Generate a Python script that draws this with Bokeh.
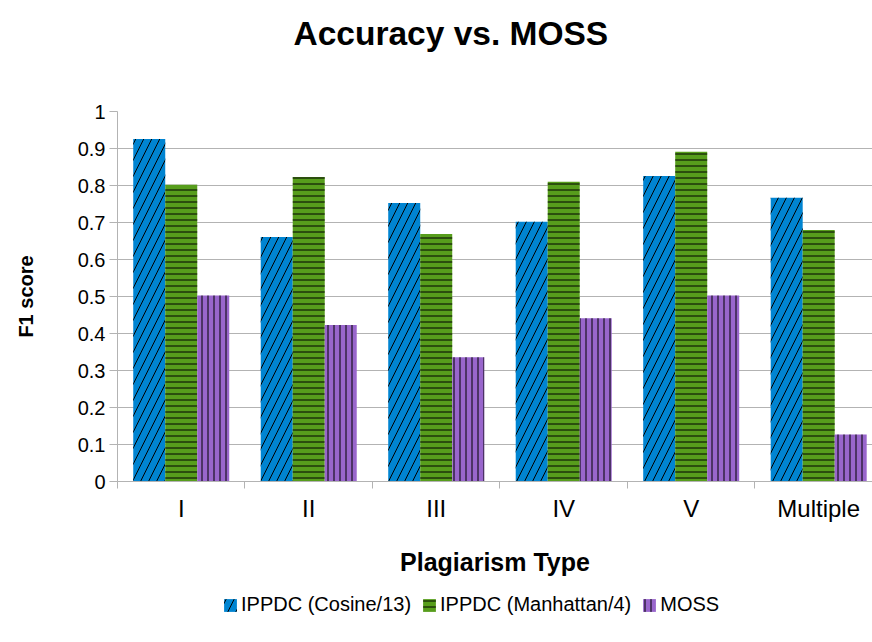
from bokeh.plotting import figure
from bokeh.models import (Range1d, FixedTicker, Legend, LegendItem, ColumnDataSource,
                          LinearAxis, Title)
from bokeh.layouts import column
from bokeh.embed import file_html
from bokeh.resources import INLINE

# ---- data ----
categories = ["I", "II", "III", "IV", "V", "Multiple"]
cosine = [0.926, 0.661, 0.753, 0.702, 0.826, 0.767]
manhattan = [0.802, 0.823, 0.669, 0.810, 0.891, 0.680]
moss = [0.503, 0.423, 0.336, 0.441, 0.503, 0.127]
series_names = ["IPPDC (Cosine/13)", "IPPDC (Manhattan/4)", "MOSS"]
y_ticks = [0, 0.1, 0.2, 0.3, 0.4, 0.5, 0.6, 0.7, 0.8, 0.9, 1]
y_tick_labels = ["0", "0.1", "0.2", "0.3", "0.4", "0.5", "0.6", "0.7", "0.8", "0.9", "1"]
title_text = "Accuracy vs. MOSS"

FONT = "Liberation Sans"
GRID = "#b3b3b3"
colors = ["#0084d1", "#579d1c", "#9966cc"]
hatches = ["/", "-", "|"]
hatch_scales = [16, 6, 6]

n = len(categories)
centers = [i + 0.5 for i in range(n)]
bounds = [i for i in range(n + 1)]
bw = 0.251
offsets = [-bw, 0.0, bw]

W = 872
H_MAIN = 580
H_LEG = 62

p = figure(width=W, height=H_MAIN, output_backend="svg", toolbar_location=None,
           x_range=Range1d(0, 5.922), y_range=Range1d(0, 1),
           min_border_left=117, min_border_right=0, min_border_top=111,
           min_border_bottom=H_MAIN - 481)
p.outline_line_color = None
p.background_fill_color = "white"
p.border_fill_color = "white"

sources = []
renderers = []
for vals, off, col, hat, hs in zip([cosine, manhattan, moss], offsets, colors, hatches, hatch_scales):
    src = ColumnDataSource(dict(x=[c + off for c in centers], top=vals))
    sources.append(src)
    r = p.vbar(x="x", top="top", width=bw, bottom=0, source=src,
               fill_color=col, line_color=None,
               hatch_pattern=hat, hatch_color="black", hatch_scale=hs, hatch_weight=1)
    renderers.append(r)

# axes (configure before adding the spacer axis)
xa = p.xaxis[0]
xa.ticker = FixedTicker(ticks=centers, minor_ticks=bounds)
xa.major_label_overrides = {c: lab for c, lab in zip(centers, categories)}
xa.major_tick_line_color = None
xa.major_tick_out = 6
xa.major_tick_in = 0
xa.minor_tick_out = 7
xa.minor_tick_in = 0
xa.minor_tick_line_color = GRID
xa.axis_line_color = GRID
xa.major_label_text_font = FONT
xa.major_label_text_font_size = "24px"
xa.major_label_text_color = "black"
xa.major_label_standoff = 6
xa.axis_label = "Plagiarism Type"
xa.axis_label_text_font = FONT
xa.axis_label_text_font_size = "25px"
xa.axis_label_text_font_style = "bold"
xa.axis_label_text_color = "black"
xa.axis_label_standoff = 23

ya = p.yaxis[0]
ya.ticker = FixedTicker(ticks=y_ticks, minor_ticks=[])
ya.major_label_overrides = {t: lab for t, lab in zip(y_ticks, y_tick_labels)}
ya.major_tick_out = 8
ya.major_tick_in = 0
ya.major_tick_line_color = GRID
ya.axis_line_color = GRID
ya.major_label_text_font = FONT
ya.major_label_text_font_size = "20px"
ya.major_label_text_color = "black"
ya.major_label_standoff = 4
ya.axis_label = "F1 score"
ya.axis_label_text_font = FONT
ya.axis_label_text_font_size = "20px"
ya.axis_label_text_font_style = "bold"
ya.axis_label_text_color = "black"
ya.axis_label_standoff = 38

p.xgrid.visible = False
p.ygrid.ticker = FixedTicker(ticks=y_ticks)
p.ygrid.grid_line_color = GRID

# spacer between plot area and title (invisible axis), then the title outside it
spacer = LinearAxis(ticker=FixedTicker(ticks=[3], minor_ticks=[]), major_tick_out=55, major_tick_in=0,
                    major_tick_line_color=None, minor_tick_line_color=None,
                    axis_line_color=None, major_label_overrides={3: ""},
                    major_label_text_font_size="1px", major_label_standoff=0)
p.add_layout(spacer, "above")
p.title = None
p.add_layout(Title(text=title_text, align="left", offset=176, text_font=FONT,
                   text_font_size="33.5px", text_font_style="bold", text_color="black"),
             "above")

# legend strip below the chart (shares the bar data, view kept off the data)
pl = figure(width=W, height=H_LEG, output_backend="svg", toolbar_location=None,
            x_range=Range1d(-100, -99), y_range=Range1d(-100, -99),
            x_axis_location=None, y_axis_location=None,
            min_border_left=0, min_border_right=0, min_border_top=0, min_border_bottom=0)
pl.outline_line_color = None
pl.xgrid.visible = False
pl.ygrid.visible = False
pl.background_fill_color = "white"
pl.border_fill_color = "white"

leg_renderers = []
for src, col, hat, hs in zip(sources, colors, hatches, hatch_scales):
    r = pl.vbar(x="x", top="top", width=bw, bottom=0, source=src,
                fill_color=col, line_color=None,
                hatch_pattern=hat, hatch_color="black", hatch_scale=hs, hatch_weight=1)
    leg_renderers.append(r)

legend = Legend(items=[LegendItem(label=nm, renderers=[r]) for nm, r in zip(series_names, leg_renderers)],
                orientation="horizontal", location=(105, 26),
                label_text_font=FONT, label_text_font_size="20px", label_text_color="black",
                glyph_width=16, glyph_height=16, label_standoff=3, spacing=10,
                padding=0, margin=0, border_line_color=None, background_fill_alpha=0)
pl.add_layout(legend, "center")

layout = column(p, pl, spacing=0)
open("out.html", "w").write(file_html(layout, INLINE))
